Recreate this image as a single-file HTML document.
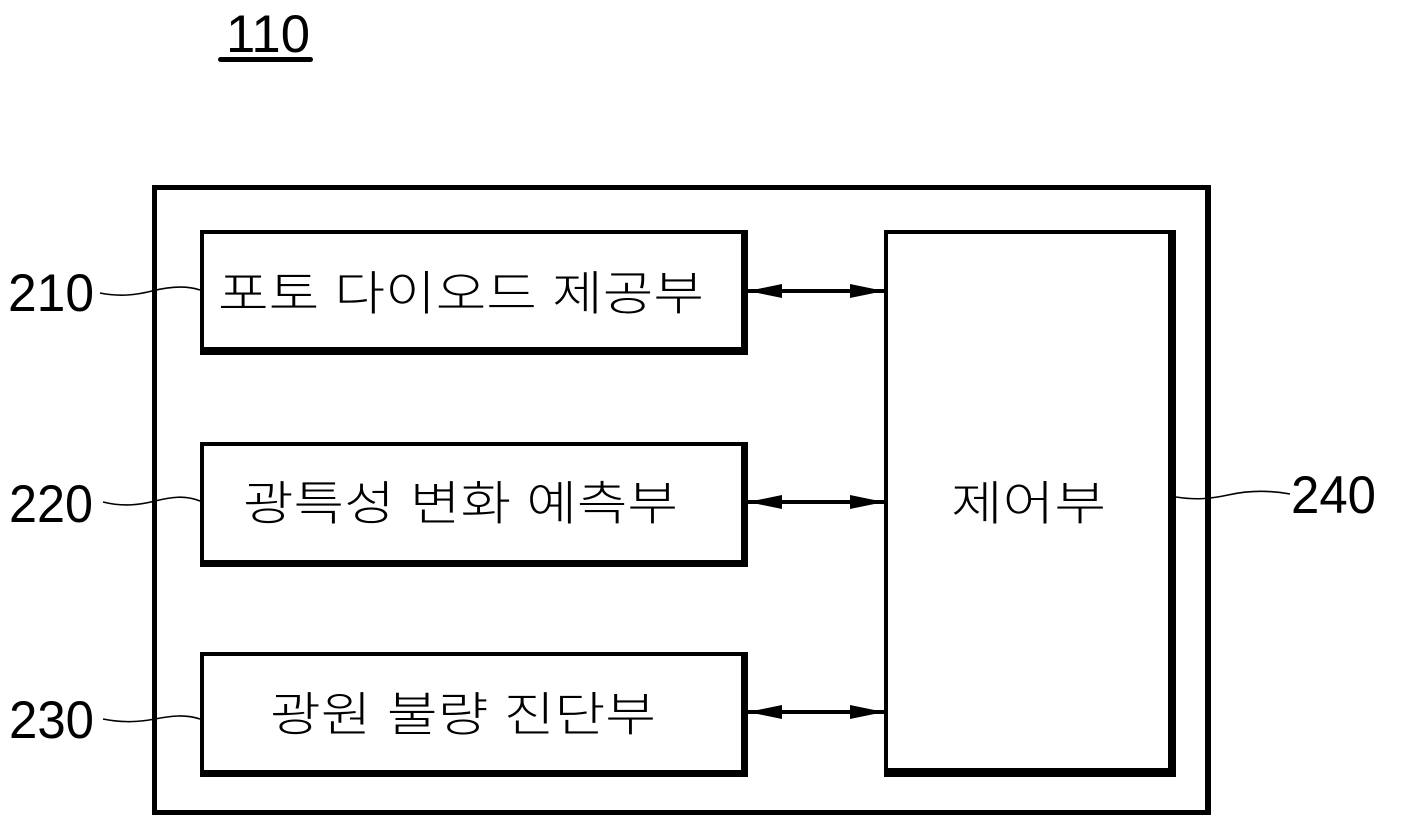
<!DOCTYPE html>
<html>
<head>
<meta charset="utf-8">
<style>
  html,body{margin:0;padding:0;background:#fff;}
  svg{display:block;}
  .kr{font-family:"Liberation Sans","Noto Sans CJK KR",sans-serif;font-size:47px;font-weight:300;fill:#000;}
  .num{font-family:"Liberation Sans",sans-serif;font-size:53px;fill:#000;}
</style>
</head>
<body>
<svg width="1406" height="832" viewBox="0 0 1406 832" xmlns="http://www.w3.org/2000/svg">
  <rect x="0" y="0" width="1406" height="832" fill="#fff"/>

  <!-- title 110 -->
  <text class="num" x="226" y="52" textLength="84" lengthAdjust="spacingAndGlyphs">110</text>
  <rect x="218" y="57" width="95" height="5" rx="2.5" fill="#000"/>

  <!-- outer box -->
  <rect x="152" y="185" width="1059" height="630" fill="#000"/>
  <rect x="157" y="190" width="1048" height="620" fill="#fff"/>

  <!-- box 1 -->
  <rect x="200" y="230" width="548" height="125" fill="#000"/>
  <rect x="204" y="234" width="537" height="113" fill="#fff"/>
  <text class="kr" x="218" y="310" textLength="486" lengthAdjust="spacingAndGlyphs">포토 다이오드 제공부</text>

  <!-- box 2 -->
  <rect x="200" y="442" width="548" height="125" fill="#000"/>
  <rect x="204" y="446" width="537" height="114" fill="#fff"/>
  <text class="kr" x="243" y="520" textLength="435" lengthAdjust="spacingAndGlyphs">광특성 변화 예측부</text>

  <!-- box 3 -->
  <rect x="200" y="652" width="548" height="125" fill="#000"/>
  <rect x="204" y="656" width="537" height="114" fill="#fff"/>
  <text class="kr" x="270" y="731" textLength="386" lengthAdjust="spacingAndGlyphs">광원 불량 진단부</text>

  <!-- control box -->
  <rect x="884" y="230" width="292" height="547" fill="#000"/>
  <rect x="888" y="234" width="280" height="534" fill="#fff"/>
  <text class="kr" x="951" y="520" textLength="155" lengthAdjust="spacingAndGlyphs">제어부</text>

  <!-- arrows -->
  <g fill="#000">
    <rect x="748" y="289" width="136" height="4"/>
    <polygon points="748,291 782,284 782,298"/>
    <polygon points="884,291 850,284 850,298"/>

    <rect x="748" y="500" width="136" height="4"/>
    <polygon points="748,502 782,495 782,509"/>
    <polygon points="884,502 850,495 850,509"/>

    <rect x="748" y="710" width="136" height="4"/>
    <polygon points="748,712 782,705 782,719"/>
    <polygon points="884,712 850,705 850,719"/>
  </g>

  <!-- reference labels -->
  <text class="num" x="8" y="311" textLength="86" lengthAdjust="spacingAndGlyphs">210</text>
  <text class="num" x="9" y="522" textLength="84" lengthAdjust="spacingAndGlyphs">220</text>
  <text class="num" x="9" y="738" textLength="85" lengthAdjust="spacingAndGlyphs">230</text>
  <text class="num" x="1291" y="513" textLength="85" lengthAdjust="spacingAndGlyphs">240</text>

  <!-- leader lines -->
  <g fill="none" stroke="#000" stroke-width="1.6">
    <path d="M100,293 C120,297 136,295 152,291 S185,285 200,290"/>
    <path d="M103,502 C123,507 139,505 155,501 S185,495 200,501"/>
    <path d="M103,719 C123,723 139,722 155,719 S185,714 200,719"/>
    <path d="M1176,497 C1195,500 1210,499 1228,495 S1268,490 1290,494"/>
  </g>
</svg>
</body>
</html>
